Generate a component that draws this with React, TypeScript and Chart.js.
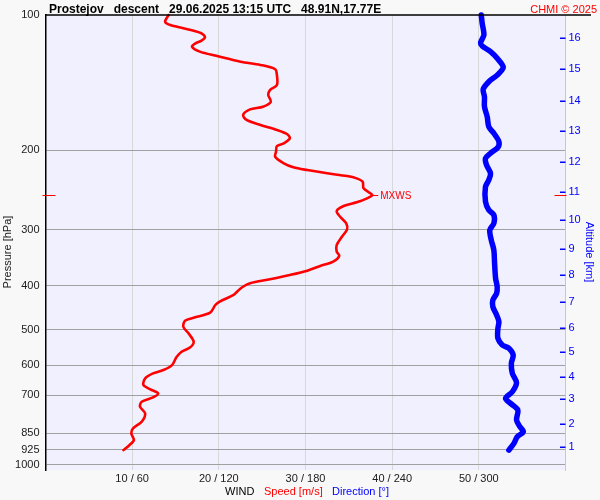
import React, { useEffect, useRef } from "react";
import { Chart, registerables } from "chart.js";

Chart.register(...registerables);

// ---- data ----
const windPressure = [
  100, 103.5, 105.3, 107, 108.4, 109.8, 112.1, 114, 115.6, 117.6,
  120.6, 123.3, 127, 129.1, 132, 136, 143.1, 146.8, 150.6, 155.9,
  159.9, 162.1, 166.8, 171.1, 175.6, 180.1, 184.1, 187.9, 192.8, 195.5,
  201.3, 206.5, 213.6, 218, 221.1, 224.8, 228, 230.7, 234.7, 242.8,
  251.2, 255.5, 260.8, 265.8, 272.7, 280.8, 290.4, 299.5, 311.1, 324.4,
  335.7, 343.1, 353.3, 361.2, 370, 378.3, 386.7, 394.7, 402.8, 412,
  419, 433.6, 441, 458.8, 470.7, 478, 492.9, 509.9, 532.3, 547.7,
  560.2, 576.5, 599.7, 615.2, 625.7, 641.9, 664.3, 679.1, 693.1, 707.5,
  723.6, 742.3, 767.8, 801.5, 829, 850.5, 880.2, 903, 926.5,
];
const windSpeed = [
  14.2, 13.8, 14.4, 15.9, 17.1, 18.0, 18.4, 18.0, 17.3, 16.9,
  17.8, 19.8, 22.5, 24.8, 26.5, 26.7, 26.7, 25.9, 25.7, 26.0,
  25.1, 23.6, 22.8, 23.2, 24.8, 26.7, 27.9, 28.2, 27.5, 26.7,
  26.6, 26.5, 27.5, 28.6, 30.2, 32.5, 34.8, 35.9, 36.6, 36.7,
  37.7, 37.1, 35.9, 34.4, 33.6, 34.0, 34.7, 34.8, 34.2, 33.6,
  33.6, 33.9, 33.2, 31.7, 30.2, 28.2, 25.9, 23.6, 22.7, 22.1,
  21.7, 20.1, 19.6, 19.0, 17.1, 16.1, 15.9, 16.5, 17.1, 16.7,
  15.7, 15.1, 14.6, 13.6, 12.4, 11.5, 11.3, 12.1, 13.0, 12.4,
  11.1, 10.9, 11.5, 11.1, 10.1, 9.9, 10.2, 9.7, 9.0,
];
const dirPressure = [
  100, 104.3, 110.8, 115.2, 117.2, 120.6, 124.8, 130.7, 136.0, 140.7,
  146.3, 151.9, 159.9, 168.3, 177.1, 183.2, 191.2, 196.8, 202.9, 208.2,
  215.4, 224.8, 232.6, 240.8, 260.0, 271.3, 278.3, 290.4, 300.5, 316.2,
  332.9, 356.2, 384.8, 401.6, 415.5, 430.0, 444.9, 464.2, 480.4, 497.0,
  523.0, 541.1, 550.4, 569.8, 594.3, 625.7, 656.5, 687.5, 711.2, 729.6,
  754.6, 794.3, 822.2, 843.5, 865.5, 895.2, 926.5,
];
const dirDeg = [
  301.7, 302.3, 303.5, 301.2, 302.3, 308.1, 312.7, 316.9, 312.7, 306.9,
  303.0, 303.9, 303.9, 305.8, 306.9, 310.4, 313.9, 313.2, 308.1, 304.6,
  305.3, 308.1, 306.9, 304.6, 304.6, 306.9, 310.4, 310.4, 307.6, 308.6,
  310.4, 310.9, 311.6, 312.7, 312.3, 309.7, 309.7, 312.3, 313.9, 313.2,
  313.2, 316.2, 320.8, 323.8, 322.5, 323.2, 326.1, 323.2, 318.5, 322.0,
  327.0, 326.1, 328.4, 330.8, 326.6, 324.3, 320.8,
];
const pressureTicks = [100, 200, 300, 400, 500, 600, 700, 850, 925, 1000];
const speedTicks = [10, 20, 30, 40, 50];
const directionTicks = [60, 120, 180, 240, 300];
const altitudeKm = [1, 2, 3, 4, 5, 6, 7, 8, 9, 10, 11, 12, 13, 14, 15, 16];
const altitudePressure = [
  910.7, 811, 714.5, 636.7, 560.2, 497, 434.4, 378.9, 330.6, 285.9,
  247.7, 212.5, 181.1, 155.1, 132, 112.7,
];

const TITLE = "Prostejov   descent   29.06.2025 13:15 UTC   48.91N,17.77E";
const FONT = "'Liberation Sans', Arial, Helvetica, sans-serif";
const BLUE = "#0000ff";
const RED = "#ff0000";

const decor = {
  id: "decor",
  beforeDraw(chart: any) {
    const { ctx, chartArea: a } = chart;
    ctx.save();
    ctx.fillStyle = "#f8f8f8";
    ctx.fillRect(0, 0, chart.width, chart.height);
    ctx.fillStyle = "#f0f0ff";
    ctx.fillRect(a.left, a.top, a.right - a.left, a.bottom - a.top);
    ctx.restore();
  },
  afterDraw(chart: any) {
    const { ctx, chartArea: a } = chart;
    const xs = chart.scales.x;
    const ys = chart.scales.y;
    const y2 = chart.scales.y2;
    ctx.save();
    // title
    ctx.textBaseline = "alphabetic";
    ctx.textAlign = "left";
    ctx.fillStyle = "#000";
    ctx.font = `bold 12px ${FONT}`;
    ctx.fillText(TITLE, 49, 12.5);
    ctx.textAlign = "right";
    ctx.fillStyle = RED;
    ctx.font = `11px ${FONT}`;
    ctx.fillText("CHMI \u00a9 2025", 597, 12.5);
    // top line
    ctx.strokeStyle = "#000";
    ctx.lineWidth = 1.5;
    ctx.beginPath();
    ctx.moveTo(a.left, a.top);
    ctx.lineTo(591, a.top);
    ctx.stroke();
    // altitude inner tick marks
    ctx.strokeStyle = BLUE;
    ctx.lineWidth = 1.5;
    y2.ticks.forEach((t: any) => {
      const yy = Math.round(y2.getPixelForValue(t.value)) + 0.25;
      ctx.beginPath();
      ctx.moveTo(a.right - 5.5, yy);
      ctx.lineTo(a.right, yy);
      ctx.stroke();
    });
    // MXWS marker
    let mi = 0;
    windSpeed.forEach((v, i) => {
      if (v > windSpeed[mi]) mi = i;
    });
    const my = Math.round(ys.getPixelForValue(windPressure[mi])) + 0.5;
    const mx = xs.getPixelForValue(windSpeed[mi]);
    ctx.strokeStyle = RED;
    ctx.lineWidth = 1;
    ctx.beginPath();
    ctx.moveTo(a.left - 3, my);
    ctx.lineTo(a.left + 10, my);
    ctx.moveTo(a.right - 11, my);
    ctx.lineTo(a.right + 1, my);
    ctx.moveTo(mx, my);
    ctx.lineTo(mx + 6, my);
    ctx.stroke();
    ctx.fillStyle = RED;
    ctx.font = `10px ${FONT}`;
    ctx.textAlign = "left";
    ctx.textBaseline = "middle";
    ctx.fillText("MXWS", mx + 8, my + 0.5);
    // axis titles
    ctx.font = `11px ${FONT}`;
    ctx.textAlign = "center";
    ctx.fillStyle = "#202020";
    ctx.save();
    ctx.translate(8, 252);
    ctx.rotate(-Math.PI / 2);
    ctx.fillText("Pressure [hPa]", 0, 0);
    ctx.restore();
    ctx.save();
    ctx.fillStyle = BLUE;
    ctx.translate(589, 252);
    ctx.rotate(Math.PI / 2);
    ctx.fillText("Altitude [km]", 0, 0);
    ctx.restore();
    // bottom legend
    ctx.textAlign = "left";
    ctx.fillStyle = "#000";
    ctx.fillText("WIND", 225, 492);
    ctx.fillStyle = RED;
    ctx.fillText("Speed [m/s]", 264, 492);
    ctx.fillStyle = BLUE;
    ctx.fillText("Direction [\u00b0]", 332, 492);
    ctx.restore();
  },
};

export default function App() {
  const ref = useRef<HTMLCanvasElement | null>(null);
  useEffect(() => {
    if (!ref.current) return;
    Chart.defaults.font.family = FONT;
    const chart = new Chart(ref.current, {
      type: "scatter",
      data: {
        datasets: [
          {
            label: "Direction",
            data: dirPressure.map((p, i) => ({ x: dirDeg[i] / 6, y: p })),
            showLine: true,
            borderColor: BLUE,
            backgroundColor: BLUE,
            borderWidth: 5.5,
            pointRadius: 0,
            tension: 0.3,
            borderJoinStyle: "round",
            borderCapStyle: "round",
            yAxisID: "y",
            clip: 4,
          },
          {
            label: "Speed",
            data: windPressure.map((p, i) => ({ x: windSpeed[i], y: p })),
            showLine: true,
            borderColor: RED,
            backgroundColor: RED,
            borderWidth: 2.6,
            pointRadius: 0,
            tension: 0.3,
            borderJoinStyle: "round",
            borderCapStyle: "round",
            yAxisID: "y",
            clip: 4,
          },
        ],
      },
      options: {
        responsive: false,
        animation: false,
        devicePixelRatio: 1,
        layout: { padding: { top: 15, left: 0, right: 0, bottom: 0 } },
        plugins: {
          legend: { display: false },
          tooltip: { enabled: false },
          title: { display: false },
        },
        events: [],
        scales: {
          x: {
            type: "linear",
            position: "bottom",
            min: 0,
            max: 60,
            afterBuildTicks: (s: any) => {
              s.ticks = speedTicks.map((v) => ({ value: v }));
            },
            afterFit: (s: any) => {
              s.height = 30;
            },
            grid: { color: "#d8d8d8", lineWidth: 1, drawTicks: false },
            border: { display: false },
            ticks: {
              autoSkip: false,
              maxRotation: 0,
              padding: 2,
              color: "#202020",
              font: { family: FONT, size: 11 },
              callback: (_v: any, i: number) =>
                `${speedTicks[i]} / ${directionTicks[i]}`,
            },
          },
          y: {
            type: "logarithmic",
            position: "left",
            reverse: true,
            min: 100,
            max: 1026,
            afterBuildTicks: (s: any) => {
              s.ticks = pressureTicks.map((v) => ({ value: v }));
            },
            afterFit: (s: any) => {
              s.width = 45.5;
            },
            grid: {
              color: (c: any) =>
                c.tick && c.tick.value === 100 ? "rgba(0,0,0,0)" : "#a0a0a0",
              lineWidth: 1,
              drawTicks: false,
            },
            border: { display: true, color: "#000", width: 1.5 },
            ticks: {
              autoSkip: false,
              padding: 6,
              color: "#202020",
              font: { family: FONT, size: 11 },
              callback: (v: any) => String(v),
            },
          },
          y2: {
            type: "logarithmic",
            position: "right",
            reverse: true,
            min: 100,
            max: 1026,
            afterBuildTicks: (s: any) => {
              s.ticks = altitudePressure.map((v) => ({ value: v }));
            },
            afterFit: (s: any) => {
              s.width = 34.5;
            },
            grid: { drawOnChartArea: false, drawTicks: false },
            border: { display: true, color: "#c8c8c8", width: 1 },
            ticks: {
              autoSkip: false,
              padding: 3,
              color: BLUE,
              font: { family: FONT, size: 11 },
              callback: (_v: any, i: number) => String(altitudeKm[i]),
            },
          },
        },
      } as any,
      plugins: [decor],
    });
    return () => chart.destroy();
  }, []);
  return (
    <div style={{ position: "absolute", left: 0, top: 0, width: 600, height: 500 }}>
      <canvas ref={ref} width={600} height={500} style={{ display: "block" }} />
    </div>
  );
}
